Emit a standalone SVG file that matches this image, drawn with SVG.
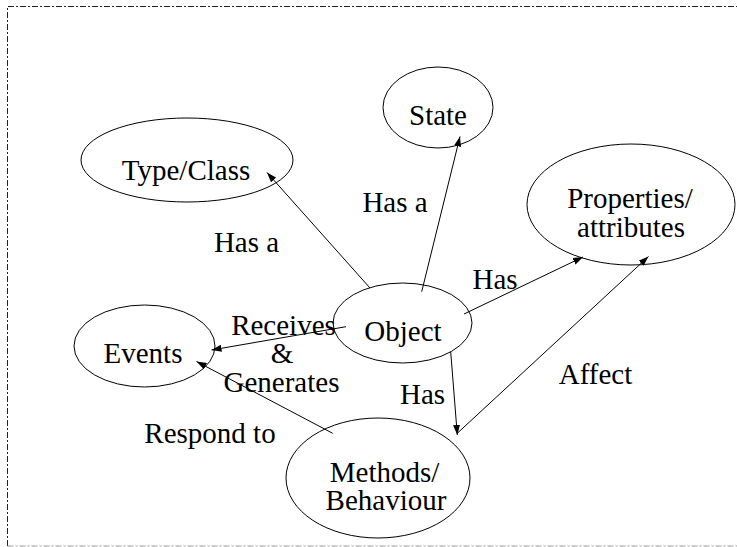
<svg xmlns="http://www.w3.org/2000/svg" width="737" height="547" viewBox="0 0 737 547">
<style>
.n{fill:none;stroke:#000;stroke-width:1}
.t{font-family:'Liberation Serif',Tinos,'Times New Roman','DejaVu Serif',serif;font-size:29px;fill:#000;text-anchor:middle}
.c{stroke:#000;stroke-width:1;fill:none;marker-end:url(#ah)}
.b{stroke:#222;stroke-width:1;stroke-dasharray:6 2 2 2;fill:none}
.b2{stroke:#999;stroke-width:1;stroke-dasharray:6 2 2 2;fill:none}
</style>
<defs>
<marker id="ah" markerWidth="11" markerHeight="8" refX="10" refY="4" orient="auto" markerUnits="userSpaceOnUse">
<path d="M0,0.5 L10,4 L0,7.5 Z" fill="#000"/>
</marker>
</defs>
<rect width="737" height="547" fill="#fff"/>
<g id="border">
<path class="b" d="M7.5,546 L7.5,6.5 L737,6.5"/>
<path class="b2" d="M7.5,546 L737,546"/>
</g>
<g id="connectors">
<line class="c" x1="370" y1="288" x2="267" y2="172.5"/>
<line class="c" x1="421.7" y1="291.7" x2="460" y2="136.5"/>
<line class="c" x1="464" y1="314" x2="583" y2="257"/>
<line class="c" x1="457" y1="433.5" x2="648.5" y2="256.5"/>
<line class="c" x1="450.7" y1="351.7" x2="457.3" y2="435"/>
<line class="c" x1="346" y1="326.7" x2="211.5" y2="350"/>
<line class="c" x1="332.7" y1="433.3" x2="196.5" y2="361.5"/>
</g>
<g id="labels">
<text class="t" x="395" y="212" font-family="Liberation Serif, serif">Has a</text>
<text class="t" x="246.5" y="252">Has a</text>
<text class="t" x="495" y="289">Has</text>
<text class="t" x="422.5" y="404">Has</text>
<text class="t" x="595.5" y="384">Affect</text>
<text class="t" x="283.5" y="335">Receives</text>
<text class="t" x="282" y="363">&amp;</text>
<text class="t" x="281.5" y="392">Generates</text>
<text class="t" x="210" y="443">Respond to</text>
</g>
<g id="node-state">
<ellipse class="n" cx="438" cy="107.5" rx="55" ry="40.5"/>
<text class="t" x="438" y="125">State</text>
</g>
<g id="node-typeclass">
<ellipse class="n" cx="187" cy="160" rx="106" ry="42"/>
<text class="t" x="186" y="180">Type/Class</text>
</g>
<g id="node-properties">
<ellipse class="n" cx="631" cy="204.5" rx="104" ry="60.5"/>
<text class="t" x="630" y="208">Properties/</text>
<text class="t" x="631" y="237">attributes</text>
</g>
<g id="node-object">
<ellipse class="n" cx="402.5" cy="323" rx="69.5" ry="40"/>
<text class="t" x="403" y="341">Object</text>
</g>
<g id="node-events">
<ellipse class="n" cx="144.5" cy="346" rx="70.5" ry="41"/>
<text class="t" x="143" y="363">Events</text>
</g>
<g id="node-methods">
<ellipse class="n" cx="378" cy="478" rx="92" ry="60"/>
<text class="t" x="384.5" y="482">Methods/</text>
<text class="t" x="386" y="510">Behaviour</text>
</g>
</svg>
